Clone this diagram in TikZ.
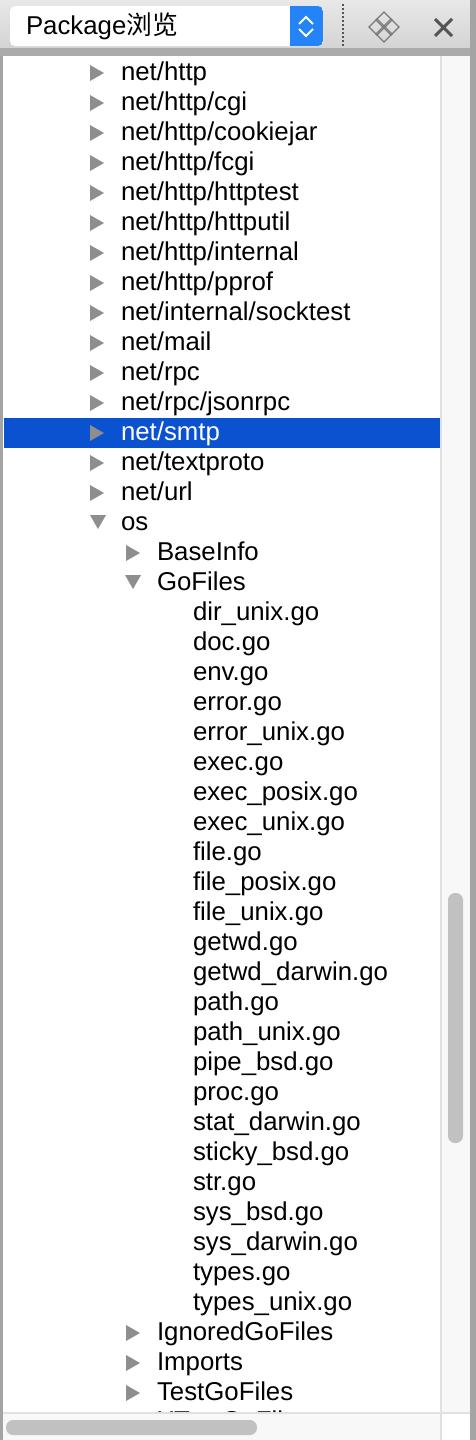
\documentclass[tikz,border=0pt]{standalone}
\usepackage{fontspec}
\setmainfont{Liberation Sans}
\newfontfamily\cjk{Noto Sans CJK SC}
\newcommand*{\listfont}{\fontsize{25.8}{30}\selectfont}
\definecolor{headtop}{HTML}{E8E8E8}
\definecolor{headbot}{HTML}{D4D4D4}
\definecolor{headline}{HTML}{ABABAB}
\definecolor{frame}{HTML}{A4A4A4}
\definecolor{arrowgrey}{HTML}{8E8E8E}
\definecolor{movegrey}{HTML}{7A7A7A}
\definecolor{select}{HTML}{0B52D0}
\definecolor{comboblue}{HTML}{2483F6}
\definecolor{track}{HTML}{F8F8F8}
\definecolor{trackline}{HTML}{E0E0E0}
\definecolor{thumb}{HTML}{C1C1C1}
\definecolor{icongrey}{HTML}{555555}
\usepackage{tikz}
\usetikzlibrary{positioning}
\tikzstyle{base}=[inner sep=0pt, outer sep=0pt, x=1pt, y=-1pt]
\tikzstyle{entry}=[anchor=base west, inner sep=0pt, font=\listfont]
% closed and open tree arrows, centre given in pixels
\newcommand*{\closedarrow}[2]{\fill[arrowgrey] ({#1-7},{#2-8}) -- ({#1+7},{#2}) -- ({#1-7},{#2+8}) -- cycle;}
\newcommand*{\openarrow}[2]{\fill[arrowgrey] ({#1-8},{#2-7}) -- ({#1+8},{#2-7}) -- ({#1},{#2+7}) -- cycle;}
\begin{document}
\begin{tikzpicture}[base]
    \useasboundingbox (0,0) rectangle (476,1440);
    \fill[white] (0,0) rectangle (476,1440);
    % header bar
    \shade[top color=headtop, bottom color=headbot] (0,0) rectangle (476,48);
    \fill[headline] (0,48) rectangle (476,56);
    \fill[white, rounded corners=5pt] (10,6) rectangle (323,46);
    \begin{scope}
        \clip[rounded corners=5pt] (10,6) rectangle (323,46);
        \fill[comboblue] (290,6) rectangle (323,46);
    \end{scope}
    \draw[white, line width=2pt] (299,24) -- (306,17) -- (313,24);
    \draw[white, line width=2pt] (299,29) -- (306,36) -- (313,29);
    \node[entry] (combo) at (26,34) {Package{\cjk 浏览}};
    \draw[icongrey, line width=1.2pt, dash pattern=on 1.5pt off 2.5pt] (343,4) -- (343,48);
    \foreach \dx/\dy in {0/-7, 0/7, -7/0, 7/0}
        \draw[movegrey, line width=1.4pt] ({384+\dx},{27+\dy-8}) -- ({384+\dx+8},{27+\dy}) -- ({384+\dx},{27+\dy+8}) -- ({384+\dx-8},{27+\dy}) -- cycle;
    \draw[icongrey, line width=3pt] (435,19) -- (452,36) (452,19) -- (435,36);
    % tree list
    \begin{scope}
        \clip (3,56) rectangle (440,1413);
        \fill[select] (4,418) rectangle (440,448);
        \closedarrow{97}{73}   \node[entry] (nethttp)   at (121,80)  {net/http};
        \closedarrow{97}{103}  \node[entry] (cgi)       at (121,110) {net/http/cgi};
        \closedarrow{97}{133}  \node[entry] (cookiejar) at (121,140) {net/http/cookiejar};
        \closedarrow{97}{163}  \node[entry] (fcgi)      at (121,170) {net/http/fcgi};
        \closedarrow{97}{193}  \node[entry] (httptest)  at (121,200) {net/http/httptest};
        \closedarrow{97}{223}  \node[entry] (httputil)  at (121,230) {net/http/httputil};
        \closedarrow{97}{253}  \node[entry] (internal)  at (121,260) {net/http/internal};
        \closedarrow{97}{283}  \node[entry] (pprof)     at (121,290) {net/http/pprof};
        \closedarrow{97}{313}  \node[entry] (socktest)  at (121,320) {net/internal/socktest};
        \closedarrow{97}{343}  \node[entry] (mail)      at (121,350) {net/mail};
        \closedarrow{97}{373}  \node[entry] (rpc)       at (121,380) {net/rpc};
        \closedarrow{97}{403}  \node[entry] (jsonrpc)   at (121,410) {net/rpc/jsonrpc};
        \closedarrow{97}{433}  \node[entry, white] (smtp) at (121,440) {net/smtp};
        \closedarrow{97}{463}  \node[entry] (textproto) at (121,470) {net/textproto};
        \closedarrow{97}{493}  \node[entry] (url)       at (121,500) {net/url};
        \openarrow{98}{522}    \node[entry] (os)        at (121,530) {os};
        \closedarrow{133}{553} \node[entry] (baseinfo)  at (157,560) {BaseInfo};
        \openarrow{133}{582}   \node[entry] (gofiles)   at (157,590) {GoFiles};
        \node[entry] (f1)  at (193,620)  {dir\_unix.go};
        \node[entry] (f2)  at (193,650)  {doc.go};
        \node[entry] (f3)  at (193,680)  {env.go};
        \node[entry] (f4)  at (193,710)  {error.go};
        \node[entry] (f5)  at (193,740)  {error\_unix.go};
        \node[entry] (f6)  at (193,770)  {exec.go};
        \node[entry] (f7)  at (193,800)  {exec\_posix.go};
        \node[entry] (f8)  at (193,830)  {exec\_unix.go};
        \node[entry] (f9)  at (193,860)  {file.go};
        \node[entry] (f10) at (193,890)  {file\_posix.go};
        \node[entry] (f11) at (193,920)  {file\_unix.go};
        \node[entry] (f12) at (193,950)  {getwd.go};
        \node[entry] (f13) at (193,980)  {getwd\_darwin.go};
        \node[entry] (f14) at (193,1010) {path.go};
        \node[entry] (f15) at (193,1040) {path\_unix.go};
        \node[entry] (f16) at (193,1070) {pipe\_bsd.go};
        \node[entry] (f17) at (193,1100) {proc.go};
        \node[entry] (f18) at (193,1130) {stat\_darwin.go};
        \node[entry] (f19) at (193,1160) {sticky\_bsd.go};
        \node[entry] (f20) at (193,1190) {str.go};
        \node[entry] (f21) at (193,1220) {sys\_bsd.go};
        \node[entry] (f22) at (193,1250) {sys\_darwin.go};
        \node[entry] (f23) at (193,1280) {types.go};
        \node[entry] (f24) at (193,1310) {types\_unix.go};
        \closedarrow{133}{1333} \node[entry] (ignored) at (157,1340) {IgnoredGoFiles};
        \closedarrow{133}{1363} \node[entry] (imports) at (157,1370) {Imports};
        \closedarrow{133}{1393} \node[entry] (testgo)  at (157,1400) {TestGoFiles};
        \closedarrow{133}{1423} \node[entry] (xtestgo) at (157,1429) {XTestGoFiles};
    \end{scope}
    % scroll bars and frame
    \fill[track] (440,56) rectangle (470,1413);
    \fill[trackline] (440,56) rectangle (442,1413);
    \fill[thumb, rounded corners=7pt] (448,893) rectangle (463,1143);
    \fill[track] (3,1413) rectangle (440,1440);
    \fill[trackline] (3,1412) rectangle (470,1414);
    \fill[white] (442,1414) rectangle (470,1440);
    \fill[trackline] (440,1414) rectangle (442,1440);
    \fill[thumb, rounded corners=7pt] (6,1420) rectangle (257,1435);
    \fill[frame] (0,56) rectangle (3,1440);
    \fill[frame] (470,0) rectangle (476,1440);
\end{tikzpicture}
\end{document}
